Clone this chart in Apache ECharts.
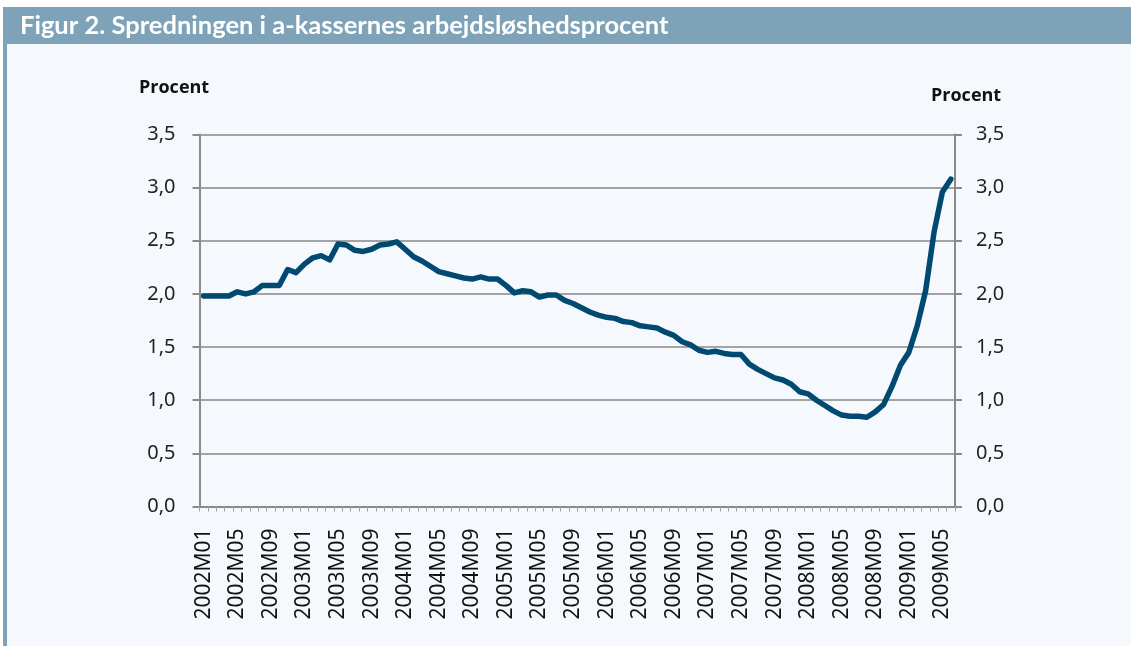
<!DOCTYPE html>
<html>
<head>
<meta charset="utf-8">
<script src="https://cdn.jsdelivr.net/npm/echarts@6/dist/echarts.min.js"></script>
<style>
html,body{margin:0;padding:0;background:#ffffff;}
#chart{width:1131px;height:646px;}
</style>
</head>
<body>
<div id="chart"></div>
<script>
var titleText = 'Figur 2. Spredningen i a-kassernes arbejdsløshedsprocent';
var axisTitle = 'Procent';
var startYear = 2002;
var monthCount = 90;
var values = [
  1.98,1.98,1.98,1.98,2.02,2.00,2.02,2.08,2.08,2.08,2.23,2.20,
  2.28,2.34,2.36,2.32,2.47,2.46,2.41,2.40,2.42,2.46,2.47,2.49,
  2.42,2.35,2.31,2.26,2.21,2.19,2.17,2.15,2.14,2.16,2.14,2.14,
  2.08,2.01,2.03,2.02,1.97,1.99,1.99,1.94,1.91,1.87,1.83,1.80,
  1.78,1.77,1.74,1.73,1.70,1.69,1.68,1.64,1.61,1.55,1.52,1.47,
  1.45,1.46,1.44,1.43,1.43,1.34,1.29,1.25,1.21,1.19,1.15,1.08,
  1.06,1.00,0.95,0.90,0.86,0.85,0.85,0.84,0.89,0.96,1.13,1.33,
  1.45,1.70,2.03,2.58,2.96,3.08
];
var yMin = 0, yMax = 3.5, yStep = 0.5;

var categories = [];
for (var i = 0; i < monthCount; i++) {
  var y = startYear + Math.floor(i / 12);
  var m = (i % 12) + 1;
  categories.push(y + 'M' + (m < 10 ? '0' + m : m));
}

function fmt(v){ return v.toFixed(1).replace('.', ','); }

var chart = echarts.init(document.getElementById('chart'));
var axisColor = '#8a8a8a';
var yAxisBase = {
  type: 'value', min: yMin, max: yMax, interval: yStep,
  axisLine: {show: true, lineStyle: {color: axisColor, width: 2}},
  axisTick: {show: true, inside: false, length: 7, lineStyle: {color: axisColor, width: 2}},
  axisLabel: {formatter: fmt, color: '#222', fontFamily: 'Noto Sans', fontSize: 20}
};
chart.setOption({
  backgroundColor: '#ffffff',
  animation: false,
  graphic: [
    {type: 'rect', shape: {x: 7, y: 44, width: 1124, height: 602}, style: {fill: '#f5f9fd'}, z: -10},
    {type: 'rect', shape: {x: 3, y: 7, width: 1128, height: 37}, style: {fill: '#7ea3b9'}, z: -5},
    {type: 'rect', shape: {x: 3, y: 44, width: 4, height: 602}, style: {fill: '#7ea3b9'}, z: -5},
    {type: 'text', x: 20, y: 26, style: {text: titleText, fill: '#ffffff', font: 'bold 25.5px Lato', verticalAlign: 'middle'}},
    {type: 'text', x: 139, y: 88, style: {text: axisTitle, fill: '#111', font: 'bold 18px "Open Sans"', verticalAlign: 'middle'}},
    {type: 'text', x: 931, y: 96, style: {text: axisTitle, fill: '#111', font: 'bold 18px "Open Sans"', verticalAlign: 'middle'}}
  ],
  grid: {left: 199.5, right: 176, top: 134.5, bottom: 139.5, containLabel: false},
  xAxis: {
    type: 'category', data: categories, boundaryGap: true,
    axisLine: {show: true, lineStyle: {color: axisColor, width: 2}},
    axisTick: {show: true, interval: 0, length: 5, lineStyle: {color: '#a0a0a0', width: 1}},
    axisLabel: {interval: 3, rotate: 90, margin: 22, color: '#111', fontFamily: 'Noto Sans', fontSize: 21}
  },
  yAxis: [
    Object.assign({}, yAxisBase, {position: 'left',
      axisLabel: Object.assign({}, yAxisBase.axisLabel, {margin: 24}),
      splitLine: {show: true, lineStyle: {color: '#a3a3a3', width: 2}}}),
    Object.assign({}, yAxisBase, {position: 'right',
      axisLabel: Object.assign({}, yAxisBase.axisLabel, {margin: 21}),
      splitLine: {show: false}})
  ],
  series: [{
    type: 'line', data: values, yAxisIndex: 0, symbol: 'none', smooth: false,
    lineStyle: {color: '#004a72', width: 5.5, join: 'round', cap: 'round'}
  }]
});
</script>
</body>
</html>
